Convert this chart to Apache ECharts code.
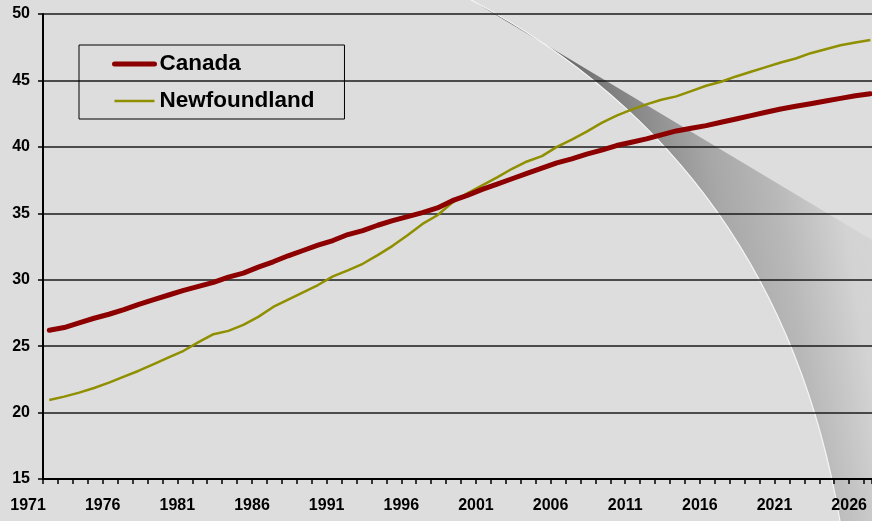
<!DOCTYPE html>
<html>
<head>
<meta charset="utf-8">
<script src="https://cdn.jsdelivr.net/npm/echarts@6/dist/echarts.min.js"></script>
<style>
  html, body { margin: 0; padding: 0; background: #dddddd; }
  #chart { width: 872px; height: 521px; }
</style>
</head>
<body>
<div id="chart"></div>
<script>
// median age, Canada vs Newfoundland
var years = [1972, 1973, 1974, 1975, 1976, 1977, 1978, 1979, 1980, 1981,
  1982, 1983, 1984, 1985, 1986, 1987, 1988, 1989, 1990, 1991,
  1992, 1993, 1994, 1995, 1996, 1997, 1998, 1999, 2000, 2001,
  2002, 2003, 2004, 2005, 2006, 2007, 2008, 2009, 2010, 2011,
  2012, 2013, 2014, 2015, 2016, 2017, 2018, 2019, 2020, 2021,
  2022, 2023, 2024, 2025, 2026, 2027];

var canada = [26.2, 26.4, 26.75, 27.1, 27.4, 27.75, 28.15, 28.5, 28.85, 29.2,
  29.5, 29.8, 30.2, 30.5, 30.95, 31.35, 31.8, 32.2, 32.6, 32.95,
  33.4, 33.7, 34.1, 34.45, 34.75, 35.05, 35.4, 35.95, 36.35, 36.8,
  37.2, 37.6, 38.0, 38.4, 38.8, 39.1, 39.45, 39.75, 40.1, 40.35,
  40.6, 40.9, 41.2, 41.4, 41.6, 41.85, 42.1, 42.35, 42.6, 42.85,
  43.05, 43.25, 43.45, 43.65, 43.85, 44.0];

var newfoundland = [20.95, 21.2, 21.5, 21.85, 22.25, 22.7, 23.15, 23.65, 24.15, 24.65,
  25.3, 25.9, 26.15, 26.6, 27.2, 27.95, 28.5, 29.05, 29.6, 30.25,
  30.7, 31.2, 31.85, 32.55, 33.35, 34.2, 34.85, 35.8, 36.5, 37.1,
  37.7, 38.35, 38.9, 39.3, 40.0, 40.55, 41.15, 41.8, 42.35, 42.8,
  43.2, 43.55, 43.8, 44.2, 44.6, 44.9, 45.3, 45.65, 46.0, 46.35,
  46.65, 47.05, 47.35, 47.65, 47.85, 48.05];

var seriesNames = ["Canada", "Newfoundland"];
var colors = ["#8c0000", "#8f8f00"];
var widths = [5, 2.5];

// points sit a bit right of the year tick, like the excel original
var pointOffset = 0.42;
var xMax = 2027.53;
var axisFont = "'Liberation Sans', Arial, sans-serif";

function pairs(vals) {
  return years.map(function (y, i) { return [y + pointOffset, vals[i]]; });
}

// decorative swoosh: quadratic arc plus a straight edge, pixel coords
var arcA = [471, 0], arcC = [779, 163.3], arcB = [840, 521];
function swooshPoints() {
  var pts = [];
  for (var k = 0; k <= 40; k++) {
    var t = k / 40, u = 1 - t;
    pts.push([u * u * arcA[0] + 2 * u * t * arcC[0] + t * t * arcB[0],
              u * u * arcA[1] + 2 * u * t * arcC[1] + t * t * arcB[1]]);
  }
  pts.push([872, 521], [872, 240]);
  return pts;
}

var chart = echarts.init(document.getElementById("chart"));

chart.setOption({
  animation: false,
  backgroundColor: "#dddddd",
  graphic: [
    {
      type: "polygon",
      z: -1,
      silent: true,
      shape: { points: swooshPoints() },
      style: {
        fill: {
          type: "linear", x: 530, y: 35, x2: 900, y2: -25, global: true,
          colorStops: [
            { offset: 0, color: "#5a5a5a" },
            { offset: 0.17, color: "#7c7c7c" },
            { offset: 0.43, color: "#a8a8a8" },
            { offset: 0.58, color: "#b8b8b8" },
            { offset: 0.67, color: "#c6c6c6" },
            { offset: 0.75, color: "#d3d3d3" },
            { offset: 1, color: "#d8d8d8" }
          ]
        }
      }
    },
    {
      type: "bezierCurve",
      z: -1,
      silent: true,
      shape: { x1: arcA[0], y1: arcA[1], cpx1: arcC[0], cpy1: arcC[1], x2: arcB[0], y2: arcB[1] },
      style: { fill: null, stroke: "#f6f6f6", lineWidth: 1.2 }
    }
  ],
  legend: {
    orient: "vertical",
    left: 79,
    top: 45,
    padding: [7, 30, 6, 33],
    itemWidth: 40,
    itemHeight: 24,
    itemGap: 13,
    borderColor: "#000",
    borderWidth: 1,
    backgroundColor: "transparent",
    selectedMode: false,
    itemStyle: { opacity: 0 },
    textStyle: {
      fontFamily: "'Liberation Sans', Arial, sans-serif",
      fontWeight: "bold",
      fontSize: 22.5,
      lineHeight: 24,
      color: "#000"
    },
    data: seriesNames.map(function (n, i) {
      return {
        name: n,
        itemStyle: { opacity: 0 },
        lineStyle: { color: colors[i], width: widths[i], cap: i === 0 ? "round" : "butt" }
      };
    })
  },
  grid: [
    { left: 43, right: 0, top: 14, bottom: 42 },
    { left: 43 - 829 / (xMax - 1972), right: 0, top: 14, bottom: 42 }
  ],
  xAxis: [
    {
      type: "value",
      gridIndex: 0,
      min: 1972,
      max: xMax,
      interval: 1,
      axisLine: { show: true, lineStyle: { color: "#000", width: 2 } },
      axisTick: { show: true, length: 5, lineStyle: { color: "#000", width: 1.5 } },
      axisLabel: { show: false },
      splitLine: { show: false }
    },
    {
      type: "value",
      gridIndex: 1,
      min: 1971,
      max: xMax,
      interval: 5,
      axisLine: { show: false },
      axisTick: { show: false },
      splitLine: { show: false },
      axisLabel: {
        show: true,
        showMaxLabel: false,
        margin: 19,
        color: "#000",
        fontFamily: axisFont,
        fontWeight: "bold",
        fontSize: 16,
        formatter: function (v) { return String(v); }
      }
    }
  ],
  yAxis: [
    {
      type: "value",
      gridIndex: 0,
      min: 15,
      max: 50,
      interval: 5,
      axisLine: { show: true, lineStyle: { color: "#000", width: 2 } },
      axisTick: { show: true, length: 5, lineStyle: { color: "#000", width: 1.5 } },
      axisLabel: {
        margin: 13,
        color: "#000",
        fontFamily: axisFont,
        fontWeight: "bold",
        fontSize: 16
      },
      splitLine: { show: true, lineStyle: { color: "#1a1a1a", width: 1.5 } }
    },
    { type: "value", gridIndex: 1, min: 15, max: 50, show: false }
  ],
  series: [
    {
      name: seriesNames[0],
      type: "line",
      xAxisIndex: 0,
      yAxisIndex: 0,
      symbol: "none",
      z: 4,
      lineStyle: { color: colors[0], width: widths[0], cap: "round" },
      itemStyle: { color: colors[0] },
      data: pairs(canada)
    },
    {
      name: seriesNames[1],
      type: "line",
      xAxisIndex: 0,
      yAxisIndex: 0,
      symbol: "none",
      z: 3,
      lineStyle: { color: colors[1], width: widths[1] },
      itemStyle: { color: colors[1] },
      data: pairs(newfoundland)
    }
  ]
});
</script>
</body>
</html>
